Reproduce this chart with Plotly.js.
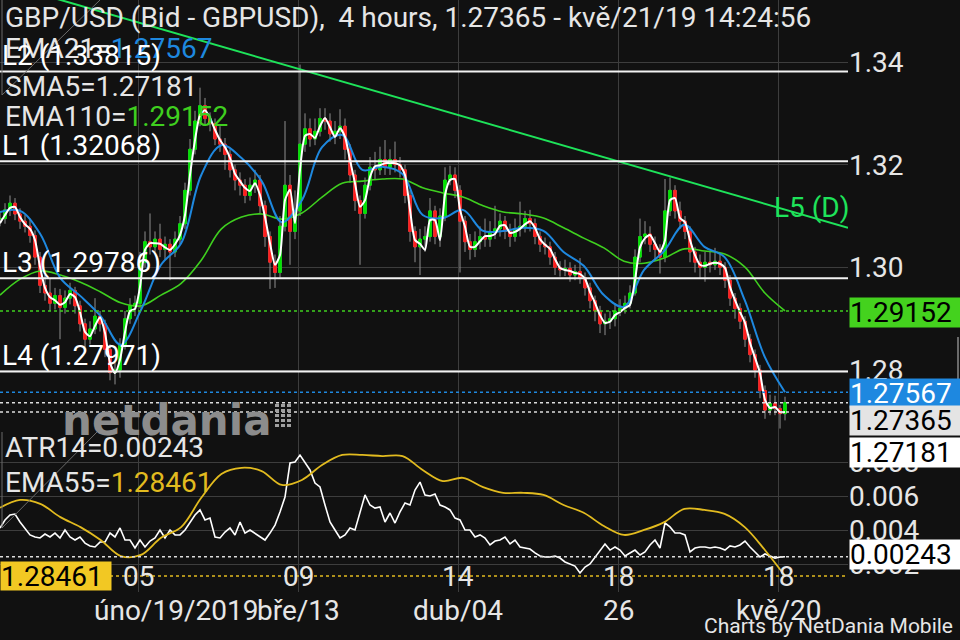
<!DOCTYPE html>
<html><head><meta charset="utf-8">
<script src="https://cdn.plot.ly/plotly-3.0.1.min.js"></script>
<style>html,body{margin:0;padding:0;background:#111111;}#chart{width:960px;height:640px;}</style>
</head><body><div id="chart"></div>
<script>
// ---------- DATA (4-hour GBP/USD bars) ----------
const closeP = [1.3095,1.3112,1.3125,1.3104,1.3090,1.3080,1.3062,1.3020,1.2965,1.2950,
1.2930,1.2945,1.2922,1.2940,1.2955,1.2925,1.2890,1.2860,1.2880,1.2905,
1.2890,1.2840,1.2795,1.2800,1.2850,1.2900,1.2925,1.2930,1.3010,1.3050,
1.3040,1.3055,1.3035,1.3045,1.3030,1.3055,1.3085,1.3150,1.3230,1.3285,
1.3315,1.3290,1.3280,1.3250,1.3240,1.3220,1.3190,1.3170,1.3160,1.3140,
1.3160,1.3170,1.3120,1.3060,1.3010,1.2990,1.3080,1.3160,1.3070,1.3110,
1.3240,1.3270,1.3250,1.3265,1.3290,1.3285,1.3260,1.3265,1.3275,1.3230,
1.3180,1.3130,1.3105,1.3160,1.3195,1.3190,1.3210,1.3195,1.3210,1.3200,
1.3190,1.3140,1.3070,1.3040,1.3055,1.3060,1.3110,1.3060,1.3100,1.3170,
1.3180,1.3150,1.3090,1.3050,1.3035,1.3050,1.3060,1.3055,1.3070,1.3075,
1.3090,1.3070,1.3060,1.3075,1.3080,1.3095,1.3085,1.3060,1.3045,1.3040,
1.3020,1.3000,1.2995,1.2998,1.2985,1.2992,1.2980,1.2960,1.2935,1.2915,
1.2890,1.2895,1.2900,1.2915,1.2920,1.2930,1.2950,1.3020,1.3060,1.3065,
1.3045,1.3035,1.3020,1.3110,1.3150,1.3110,1.3090,1.3070,1.3030,1.3010,
1.3000,1.3010,1.3005,1.3012,1.3000,1.2975,1.2940,1.2920,1.2895,1.2860,
1.2830,1.2800,1.2760,1.2722,1.2735,1.2725,1.2715,1.27365];
const highP = [1.3110,1.3125,1.3140,1.3135,1.3115,1.3102,1.3095,1.3072,1.3030,1.2985,
1.2978,1.2960,1.2958,1.2955,1.2970,1.2962,1.2935,1.2900,1.2895,1.2940,
1.2915,1.2898,1.2850,1.2815,1.2862,1.2915,1.2940,1.2945,1.3030,1.3070,
1.3105,1.3070,1.3085,1.3060,1.3055,1.3070,1.3100,1.3165,1.3250,1.3305,
1.3350,1.3330,1.3302,1.3290,1.3275,1.3252,1.3230,1.3200,1.3185,1.3172,
1.3175,1.3190,1.3180,1.3130,1.3070,1.3025,1.3100,1.3285,1.3180,1.3150,
1.3395,1.3300,1.3290,1.3290,1.3310,1.3310,1.3300,1.3285,1.3308,1.3290,
1.3240,1.3190,1.3140,1.3175,1.3215,1.3225,1.3235,1.3248,1.3230,1.3245,
1.3215,1.3200,1.3150,1.3080,1.3075,1.3080,1.3135,1.3120,1.3115,1.3195,
1.3198,1.3195,1.3160,1.3100,1.3065,1.3070,1.3080,1.3095,1.3090,1.3120,
1.3105,1.3100,1.3085,1.3095,1.3128,1.3110,1.3112,1.3095,1.3070,1.3058,
1.3050,1.3030,1.3012,1.3015,1.3010,1.3005,1.3018,1.2990,1.2970,1.2945,
1.2925,1.2910,1.2915,1.2930,1.2938,1.2945,1.2965,1.3035,1.3095,1.3090,
1.3080,1.3060,1.3045,1.3172,1.3175,1.3160,1.3128,1.3100,1.3080,1.3040,
1.3025,1.3030,1.3030,1.3038,1.3025,1.3010,1.2985,1.2950,1.2930,1.2905,
1.2870,1.2840,1.2810,1.2770,1.2752,1.2750,1.2732,1.2748];
const lowP = [1.3080,1.3085,1.3100,1.3092,1.3075,1.3068,1.3048,1.3005,1.2950,1.2935,
1.2915,1.2918,1.2860,1.2910,1.2928,1.2910,1.2875,1.2845,1.2850,1.2870,
1.2875,1.2825,1.2780,1.2772,1.2785,1.2840,1.2890,1.2905,1.2920,1.3000,
1.3025,1.3030,1.3020,1.3015,1.2975,1.3020,1.3045,1.3075,1.3140,1.3220,
1.3275,1.3278,1.3265,1.3238,1.3225,1.3190,1.3175,1.3150,1.3140,1.3125,
1.3130,1.3145,1.3105,1.3040,1.2958,1.2960,1.2980,1.3070,1.3005,1.3055,
1.3100,1.3225,1.3235,1.3238,1.3255,1.3268,1.3245,1.3240,1.3250,1.3210,
1.3165,1.3110,1.3005,1.3095,1.3150,1.3170,1.3180,1.3180,1.3180,1.3185,
1.3175,1.3125,1.3050,1.3010,1.2985,1.3030,1.3050,1.3045,1.3040,1.3090,
1.3160,1.3135,1.2990,1.3030,1.3015,1.3020,1.3035,1.3040,1.3040,1.3055,
1.3060,1.3055,1.3040,1.3050,1.3060,1.3068,1.3070,1.3045,1.3030,1.3025,
1.3005,1.2985,1.2982,1.2983,1.2972,1.2975,1.2968,1.2945,1.2920,1.2895,
1.2872,1.2868,1.2880,1.2885,1.2905,1.2910,1.2920,1.2945,1.3010,1.3045,
1.3030,1.3015,1.2988,1.3010,1.3100,1.3095,1.3075,1.3055,1.3010,1.2990,
1.2980,1.2972,1.2990,1.2995,1.2985,1.2960,1.2925,1.2900,1.2880,1.2845,
1.2815,1.2785,1.2745,1.2705,1.2712,1.2712,1.2686,1.2702];
const sma5 = [1.3086,1.3102,1.3116,1.3118,1.3098,1.3084,1.3075,1.3053,1.3001,1.2960,
1.2942,1.2936,1.2927,1.2932,1.2948,1.2942,1.2913,1.2874,1.2866,1.2886,
1.2903,1.2872,1.2814,1.2794,1.2820,1.2874,1.2915,1.2919,1.2962,1.3034,
1.3047,1.3047,1.3046,1.3039,1.3034,1.3045,1.3063,1.3102,1.3180,1.3248,
1.3297,1.3306,1.3291,1.3268,1.3248,1.3234,1.3213,1.3182,1.3168,1.3155,
1.3149,1.3164,1.3141,1.3098,1.3047,1.3005,1.3024,1.3131,1.3151,1.3086,
1.3190,1.3256,1.3260,1.3252,1.3275,1.3291,1.3273,1.3254,1.3271,1.3254,
1.3209,1.3164,1.3118,1.3131,1.3176,1.3197,1.3199,1.3203,1.3203,1.3203,
1.3199,1.3180,1.3112,1.3053,1.3046,1.3034,1.3092,1.3092,1.3053,1.3141,
1.3170,1.3172,1.3112,1.3079,1.3040,1.3040,1.3051,1.3061,1.3061,1.3065,
1.3081,1.3082,1.3067,1.3069,1.3075,1.3084,1.3090,1.3077,1.3055,1.3044,
1.3036,1.3016,1.2999,1.2995,1.2993,1.2989,1.2987,1.2978,1.2952,1.2931,
1.2907,1.2892,1.2894,1.2907,1.2913,1.2921,1.2927,1.2975,1.3039,1.3057,
1.3063,1.3047,1.3030,1.3053,1.3131,1.3135,1.3096,1.3088,1.3053,1.3024,
1.3005,1.3003,1.3007,1.3009,1.3007,1.2999,1.2962,1.2936,1.2913,1.2892,
1.2853,1.2824,1.2794,1.2742,1.2726,1.2728,1.2718,1.27181];
const ema21 = [1.3108,1.3110,1.3065,1.2979,1.2944,1.2905,1.2849,1.2917,1.3005,1.3047,
1.3180,1.3238,1.3213,1.3168,1.3088,1.3131,1.3234,1.3258,1.3190,1.3196,
1.3182,1.3102,1.3096,1.3112,1.3071,1.3071,1.3077,1.3071,1.3030,1.3003,
1.2946,1.2923,1.2995,1.3032,1.3083,1.3040,1.3020,1.2936,1.2825,1.27567];
const ema110 = [1.2946,1.2977,1.2993,1.2985,1.2971,1.2952,1.2931,1.2925,1.2946,1.2969,
1.3014,1.3075,1.3098,1.3104,1.3094,1.3106,1.3137,1.3164,1.3168,1.3172,
1.3172,1.3155,1.3145,1.3137,1.3120,1.3108,1.3104,1.3096,1.3077,1.3057,
1.3038,1.3012,1.3008,1.3018,1.3036,1.3032,1.3026,1.3001,1.2950,1.29152];
const atr14 = [0.00412,0.00459,0.00488,0.00494,0.00447,0.00412,0.00371,0.00359,0.00353,0.00376,
0.00359,0.00382,0.00353,0.00400,0.00359,0.00341,0.00359,0.00323,0.00306,0.00300,
0.00329,0.00329,0.00382,0.00359,0.00412,0.00341,0.00341,0.00294,0.00341,0.00300,
0.00335,0.00353,0.00400,0.00353,0.00400,0.00371,0.00371,0.00400,0.00447,0.00488,
0.00518,0.00459,0.00470,0.00359,0.00353,0.00388,0.00412,0.00371,0.00447,0.00382,
0.00400,0.00382,0.00359,0.00341,0.00382,0.00429,0.00506,0.00594,0.00794,0.00800,
0.00841,0.00794,0.00753,0.00676,0.00653,0.00547,0.00447,0.00400,0.00353,0.00371,
0.00412,0.00400,0.00506,0.00606,0.00547,0.00529,0.00535,0.00447,0.00500,0.00441,
0.00506,0.00559,0.00547,0.00635,0.00682,0.00606,0.00600,0.00612,0.00547,0.00535,
0.00518,0.00470,0.00459,0.00400,0.00400,0.00359,0.00371,0.00353,0.00312,0.00335,
0.00341,0.00359,0.00318,0.00341,0.00300,0.00294,0.00288,0.00265,0.00247,0.00241,
0.00241,0.00247,0.00235,0.00212,0.00200,0.00188,0.00147,0.00182,0.00200,0.00241,
0.00282,0.00318,0.00282,0.00300,0.00282,0.00247,0.00265,0.00282,0.00253,0.00271,
0.00312,0.00341,0.00294,0.00441,0.00418,0.00382,0.00382,0.00371,0.00271,0.00294,
0.00300,0.00300,0.00294,0.00300,0.00294,0.00282,0.00306,0.00300,0.00312,0.00335,
0.00300,0.00271,0.00241,0.00259,0.00247,0.00235,0.00241,0.00243];
const ema55 = [1.3037,1.3059,1.3048,1.3011,1.2983,1.2947,1.2902,1.2905,1.2953,1.2983,
1.3065,1.3132,1.3149,1.3140,1.3101,1.3115,1.3157,1.3185,1.3185,1.3182,
1.3182,1.3143,1.3112,1.3121,1.3095,1.3079,1.3079,1.3073,1.3045,1.3023,
1.2986,1.2961,1.2975,1.2997,1.3034,1.3031,1.3020,1.2983,1.2919,1.28461];
const levelNames = ['L1','L2','L3','L4'];
const levelValues = [1.32068,1.33815,1.29786,1.27971];
const trendName = 'L5 (D)';
const trendBars = [0,169.6];
const trendPrices = [1.3555,1.3077];
const priceTicks = [1.28,1.30,1.32,1.34];
const atrTicks = [0.002,0.004,0.006,0.008];
const tickBars = [27.6,59.6,91.6,123.6,155.6];
const tickTop = ['05','09','14','18','18'];
const tickBottom = ['úno/19/2019','bře/13','dub/04','26','kvě/20'];
const titleText = 'GBP/USD (Bid - GBPUSD),  4 hours, 1.27365 - kvě/21/19 14:24:56';
const footerText = 'Charts by NetDania Mobile';
const logoText = 'netdania';

// ---------- derived ----------
const N = closeP.length;
const bars = closeP.map((_, i) => i);
const openP = closeP.map((c, i) => i === 0 ? c : closeP[i-1]);
const bodyHi = closeP.map((c, i) => Math.max(c, openP[i]));
const bodyLo = closeP.map((c, i) => Math.min(c, openP[i]));
const spread = arr => arr.map((_, i) => i * (N - 1) / (arr.length - 1));
const last = a => a[a.length-1];

const FONT = 'Roboto, "Noto Sans", sans-serif';
const TXT = '#e6e6e6';
const GREEN = '#3fcf1f', BLUE = '#1e88df', YELLOW = '#e2bb1f', RED = '#ff1e1e', CGREEN = '#00e400';
const GRID = '#3d3d3d';
const H = 592, W = 848;
const py = p => 1 - p / H;
const px = p => p / W;

const traces = [
  {type:'candlestick', x:bars, open:openP, high:highP, low:lowP, close:closeP,
   increasing:{line:{color:'#8f8f8f', width:1}, fillcolor:'#8f8f8f'},
   decreasing:{line:{color:'#8f8f8f', width:1}, fillcolor:'#8f8f8f'},
   whiskerwidth:0, hoverinfo:'skip', xaxis:'x', yaxis:'y'},
  {type:'candlestick', x:bars, open:openP, high:bodyHi, low:bodyLo, close:closeP,
   increasing:{line:{color:CGREEN, width:1}, fillcolor:CGREEN},
   decreasing:{line:{color:RED, width:1}, fillcolor:RED},
   whiskerwidth:0, hoverinfo:'skip', xaxis:'x', yaxis:'y'},
  {type:'scatter', mode:'lines', x:spread(ema110), y:ema110, line:{color:GREEN, width:1.6, shape:'spline'}, xaxis:'x', yaxis:'y', hoverinfo:'skip'},
  {type:'scatter', mode:'lines', x:spread(ema21), y:ema21, line:{color:BLUE, width:2, shape:'spline'}, xaxis:'x', yaxis:'y', hoverinfo:'skip'},
  {type:'scatter', mode:'lines', x:bars, y:sma5, line:{color:'#ffffff', width:2, shape:'spline', smoothing:0.6}, xaxis:'x', yaxis:'y', hoverinfo:'skip'},
  {type:'scatter', mode:'lines', x:trendBars, y:trendPrices, line:{color:'#1ee35a', width:2}, xaxis:'x', yaxis:'y', hoverinfo:'skip', cliponaxis:true},
  {type:'scatter', mode:'lines', x:bars, y:atr14, line:{color:'#ffffff', width:1.6}, xaxis:'x2', yaxis:'y2', hoverinfo:'skip'},
  {type:'scatter', mode:'lines', x:spread(ema55), y:ema55, line:{color:YELLOW, width:1.8, shape:'spline'}, xaxis:'x2', yaxis:'y3', hoverinfo:'skip'}
];

const shapes = [];
levelValues.forEach(v => shapes.push({type:'line', xref:'paper', x0:0, x1:1, yref:'y', y0:v, y1:v, line:{color:'#f2f2f2', width:2}, layer:'above'}));
const dotted = (v, yref, color, x0) => shapes.push({type:'line', xref:'paper', x0:x0||0, x1:1, yref:yref, y0:v, y1:v, line:{color:color, width:1.5, dash:'dot'}, layer:'above'});
dotted(last(ema110), 'y', GREEN);
dotted(last(ema21), 'y', BLUE);
dotted(last(closeP), 'y', '#dddddd');
dotted(last(sma5), 'y', '#dddddd');
dotted(last(atr14), 'y2', '#dddddd');
dotted(last(ema55), 'y3', YELLOW, px(110));
// small corner icons and scroll mark
shapes.push({type:'line', xref:'paper', yref:'paper', x0:px(2), x1:px(2), y0:py(0), y1:py(95), line:{color:'#6a6a6a', width:1}});
shapes.push({type:'line', xref:'paper', yref:'paper', x0:px(2), x1:px(100), y0:py(95), y1:py(0), line:{color:'#6a6a6a', width:1}});
shapes.push({type:'line', xref:'paper', yref:'paper', x0:px(2), x1:px(2), y0:py(432), y1:py(528), line:{color:'#6a6a6a', width:1}});
shapes.push({type:'line', xref:'paper', yref:'paper', x0:px(2), x1:px(97), y0:py(528), y1:py(432), line:{color:'#6a6a6a', width:1}});
shapes.push({type:'line', xref:'paper', yref:'paper', x0:px(958), x1:px(958), y0:py(337), y1:py(385), line:{color:'#6a6a6a', width:2}});
// netdania logo checker square
for (let r = 0; r < 5; r++) for (let c = 0; c < 3; c++) {
  shapes.push({type:'rect', xref:'paper', yref:'paper', x0:px(275 + c*6), x1:px(279 + c*6), y0:py(407 + r*5), y1:py(404 + r*5), fillcolor:'#a0a0a0', line:{width:0}});
}

const ann = [];
const txt = (text, x, y, opts) => ann.push(Object.assign({text:text, xref:'paper', yref:'paper', x:x, y:y, xanchor:'left', yanchor:'middle', showarrow:false, font:{family:FONT, size:28, color:TXT}}, opts||{}));
txt(logoText, px(60), py(420), {font:{family:'"DejaVu Sans", sans-serif', size:42, color:'#8c8c8c', weight:700}});
txt(titleText, px(3), py(17));
txt('EMA21=<span style="color:'+BLUE+'">'+last(ema21).toFixed(5)+'</span>', px(3), py(48));
levelNames.forEach((n, i) => ann.push({text:n+' ('+levelValues[i].toFixed(5)+')', xref:'paper', x:0, xanchor:'left', yref:'y', y:levelValues[i], yanchor:'middle', yshift:16, showarrow:false, font:{family:FONT, size:28, color:'#ffffff'}}));
txt('SMA5='+last(sma5).toFixed(5), px(3), py(87));
txt('EMA110=<span style="color:'+GREEN+'">'+last(ema110).toFixed(5)+'</span>', px(3), py(117));
txt(trendName, px(851), py(208), {xanchor:'right', font:{family:FONT, size:28, color:'#1ee35a'}});
txt('ATR14='+last(atr14).toFixed(5), px(3), py(447));
txt('EMA55=<span style="color:'+YELLOW+'">'+last(ema55).toFixed(5)+'</span>', px(3), py(482));
tickBars.forEach((b, i) => {
  ann.push({text:tickTop[i], xref:'x2', x:b, yref:'paper', y:py(576), xanchor:'center', yanchor:'middle', showarrow:false, font:{family:FONT, size:28, color:TXT}});
  ann.push({text:tickBottom[i], xref:'x2', x:b, xshift:(i===0?38:0), yref:'paper', y:py(610), xanchor:'center', yanchor:'middle', showarrow:false, font:{family:FONT, size:28, color:TXT}});
});
txt(footerText, px(955), py(626), {xanchor:'right', font:{family:FONT, size:21, color:TXT}});
// value boxes on the right
const box = (v, yref, bg, fg, shift) => ann.push({text:v.toFixed(5), xref:'paper', x:1, xshift:1, xanchor:'left', yref:yref, y:v, yanchor:'middle', yshift:shift, width:110, height:29, align:'left', bgcolor:bg, borderpad:0, showarrow:false, font:{family:FONT, size:28, color:fg}});
box(last(ema110), 'y', '#44d21e', '#000000', -2);
box(last(ema21), 'y', '#1e88e0', '#ffffff', -1);
box(last(closeP), 'y', '#e4e4e4', '#000000', -18);
box(last(sma5), 'y', '#ffffff', '#000000', -40);
box(last(atr14), 'y2', '#ffffff', '#000000', 2);
ann.push({text:last(ema55).toFixed(5), xref:'paper', x:0, xanchor:'left', yref:'y3', y:last(ema55), yanchor:'middle', width:110, height:28, align:'left', bgcolor:'#f2c823', borderpad:0, showarrow:false, font:{family:FONT, size:28, color:'#000000'}});

const layout = {
  width:960, height:640, paper_bgcolor:'#111111', plot_bgcolor:'#111111',
  margin:{l:0, r:112, t:0, b:48}, showlegend:false, dragmode:false,
  xaxis:{domain:[0,1], range:[0,169.6], anchor:'y', tickvals:tickBars, showticklabels:false, showgrid:true, gridcolor:GRID, zeroline:false, showline:false, rangeslider:{visible:false}, ticks:''},
  yaxis:{domain:[1-432/H,1], range:[1.26793,1.35208], anchor:'x', side:'right', tickvals:priceTicks, ticktext:priceTicks.map(v=>v.toFixed(2)), tickfont:{family:FONT, size:28, color:TXT}, gridcolor:GRID, zeroline:false, showline:false, ticks:''},
  xaxis2:{domain:[0,1], range:[0,169.6], anchor:'y2', tickvals:tickBars, showticklabels:false, showgrid:true, gridcolor:GRID, zeroline:false, showline:false, ticks:''},
  yaxis2:{domain:[0,1-432/H], range:[0.000353,0.009765], anchor:'x2', side:'right', tickvals:atrTicks, ticktext:atrTicks.map(v=>v.toFixed(3)), tickfont:{family:FONT, size:28, color:TXT}, gridcolor:GRID, zeroline:false, showline:false, ticks:''},
  yaxis3:{overlaying:'y2', anchor:'x2', range:[1.28013,1.32493], visible:false, showgrid:false, zeroline:false},
  shapes:shapes, annotations:ann
};
Plotly.newPlot('chart', traces, layout, {staticPlot:true, displayModeBar:false});
</script></body></html>
